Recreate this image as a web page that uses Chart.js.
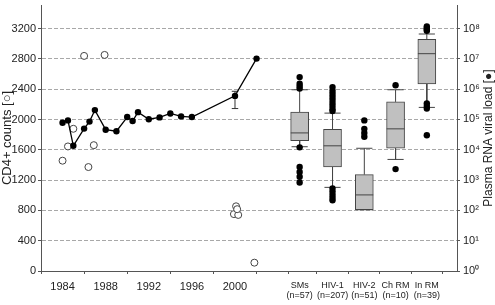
<!DOCTYPE html>
<html>
<head>
<meta charset="utf-8">
<script src="https://cdn.jsdelivr.net/npm/chart.js@4/dist/chart.umd.min.js"></script>
<style>
  html, body { margin: 0; padding: 0; background: #fff; }
  #wrap { position: relative; width: 495px; height: 305px; }
</style>
</head>
<body>
<div id="wrap"><canvas id="chart"></canvas></div>
<script>
// =========================
//  DATA
// =========================

// x axis
const yearTicks = [1984, 1988, 1992, 1996, 2000, 2004];
const groups    = ["SMs", "HIV-1", "HIV-2", "Ch RM", "In RM"];
const groupN    = ["(n=57)", "(n=207)", "(n=51)", "(n=10)", "(n=39)"];
const groupX    = [2006, 2009.05, 2012, 2014.9, 2017.8];

// left axis ticks (CD4+) and right axis ticks (viral load)
const cd4Ticks = [0, 400, 800, 1200, 1600, 2000, 2400, 2800, 3200];
const vlTicks  = [1, 10, 100, 1e3, 1e4, 1e5, 1e6, 1e7, 1e8];
const vlExp    = ["\u2070", "\u00b9", "\u00b2", "\u00b3", "\u2074", "\u2075", "\u2076", "\u2077", "\u2078"];

// patient viral load (filled dots, right axis)
const vlYears  = [1984, 1984.5, 1985, 1986, 1986.5, 1987, 1988, 1989, 1990, 1990.5, 1991, 1992, 1993, 1994, 1995, 1996, 2000, 2002];
const vlValues = [78000, 93000, 13500, 50000, 85000, 204000, 46000, 41000, 120000, 89000, 174000, 102000, 117000, 158000, 126000, 120000, 600000, 10200000];

// error bar at 2000
const errYear = 2000;
const errLow  = 229000;
const errHigh = 850000;

// patient CD4+ counts (open circles, left axis)
const cd4Years  = [1984, 1984.5, 1985, 1986, 1986.4, 1986.9, 1987.9, 1999.9, 2000.3, 2000.1, 2000.2, 2001.8];
const cd4Values = [1456, 1644, 1877, 2839, 1372, 1661, 2852, 751, 740, 854, 816, 110];

// box plots (viral load)
const boxLow  = [12600, 575, 105, 4800, 250000];
const boxQ1   = [20000, 2700, 105, 11200, 1480000];
const boxMed  = [36000, 13500, 324, 49000, 14800000];
const boxQ3   = [174000, 47000, 1510, 380000, 44000000];
const boxHigh = [955000, 162000, 11200, 955000, 66000000];
const boxOutliers = [
  [2500000, 1500000, 1260000, 1050000, 12000, 2700, 1860, 1290, 830],
  [1170000, 890000, 710000, 560000, 450000, 350000, 280000, 220000, 190000, 525, 417, 331, 263, 214],
  [93000, 49000, 36000, 27000],
  [1350000, 2300],
  [117000000, 105000000, 93000000, 85000000, 340000, 280000, 230000, 30000]
];

// =========================
//  BUILD DATASETS
// =========================

const CAP = 0.75;
const ERR_CAP = 0.3;

const vlLine = vlYears.map((x, i) => ({ x, y: vlValues[i] }));
const cd4Pts = cd4Years.map((x, i) => ({ x, y: cd4Values[i] }));

const boxBars = groupX.map((x, i) => ({ x, y: [boxQ1[i], boxQ3[i]] }));

const whiskerSegs = [];
groupX.forEach((x, i) => {
  whiskerSegs.push({ x, y: boxQ3[i] }, { x, y: boxHigh[i] }, { x, y: null });
  whiskerSegs.push({ x, y: boxQ1[i] }, { x, y: boxLow[i] }, { x, y: null });
  whiskerSegs.push({ x: x - CAP, y: boxHigh[i] }, { x: x + CAP, y: boxHigh[i] }, { x, y: null });
  whiskerSegs.push({ x: x - CAP, y: boxLow[i] }, { x: x + CAP, y: boxLow[i] }, { x, y: null });
});

const medianSegs = [];
groupX.forEach((x, i) => {
  medianSegs.push({ x: x - 0.83, y: boxMed[i] }, { x: x + 0.83, y: boxMed[i] }, { x, y: null });
});

const errSegs = [
  { x: errYear, y: errLow }, { x: errYear, y: errHigh }, { x: errYear, y: null },
  { x: errYear - ERR_CAP, y: errLow }, { x: errYear + ERR_CAP, y: errLow }, { x: errYear, y: null },
  { x: errYear - ERR_CAP, y: errHigh }, { x: errYear + ERR_CAP, y: errHigh }
];

const outlierPts = [];
groupX.forEach((x, i) => boxOutliers[i].forEach(v => outlierPts.push({ x, y: v })));

// =========================
//  CHART
// =========================

Chart.defaults.font.family = '"Liberation Sans", Arial, Helvetica, sans-serif';
Chart.defaults.color = "#222";

const AXIS = "#555";
const GRID = "#a8a8a8";

const rightTitle = {
  id: "rightTitle",
  afterDraw(chart) {
    const { ctx, chartArea } = chart;
    ctx.save();
    ctx.translate(489, (chartArea.top + chartArea.bottom) / 2);
    ctx.rotate(-Math.PI / 2);
    ctx.font = '12px "Liberation Sans", Arial, sans-serif';
    ctx.fillStyle = "#222";
    ctx.textAlign = "center";
    ctx.textBaseline = "middle";
    ctx.fillText("Plasma RNA viral load [\u25cf]", 0, 0);
    ctx.restore();
  }
};

new Chart(document.getElementById("chart"), {
  type: "scatter",
  data: {
    datasets: [
      {
        type: "scatter", data: outlierPts, yAxisID: "yVL",
        pointRadius: 3.2, pointBackgroundColor: "#000", pointBorderColor: "#000", pointBorderWidth: 0, order: 1
      },
      {
        type: "line", data: vlLine, yAxisID: "yVL",
        borderColor: "#000", borderWidth: 1.3, pointRadius: 3.2, pointBackgroundColor: "#000",
        pointBorderColor: "#000", pointBorderWidth: 0, tension: 0, order: 1
      },
      {
        type: "scatter", data: cd4Pts, yAxisID: "yCD4",
        pointRadius: 3.5, pointBackgroundColor: "#fff", pointBorderColor: "#444", pointBorderWidth: 1, order: 2
      },
      {
        type: "line", data: errSegs, yAxisID: "yVL",
        borderColor: "#333", borderWidth: 1, pointRadius: 0, spanGaps: false, order: 3
      },
      {
        type: "line", data: medianSegs, yAxisID: "yVL",
        borderColor: "#444", borderWidth: 1, pointRadius: 0, spanGaps: false, order: 3
      },
      {
        type: "line", data: whiskerSegs, yAxisID: "yVL",
        borderColor: "#444", borderWidth: 1, pointRadius: 0, spanGaps: false, order: 5
      },
      {
        type: "bar", data: boxBars, yAxisID: "yVL",
        backgroundColor: "#c0c0c0", borderColor: "#444", borderWidth: 1, borderSkipped: false,
        barThickness: 18, order: 4
      }
    ]
  },
  options: {
    responsive: true,
    maintainAspectRatio: false,
    animation: false,
    layout: { padding: 0 },
    plugins: { legend: { display: false }, tooltip: { enabled: false } },
    scales: {
      x: {
        type: "linear", position: "bottom", min: 1982, max: 2020.6, offset: false,
        grid: { drawOnChartArea: false, drawTicks: true, tickLength: 3, tickColor: AXIS },
        border: { color: AXIS, width: 1 },
        afterBuildTicks: s => { s.ticks = yearTicks.concat(groupX).map(v => ({ value: v })); },
        afterFit: s => { s.height = 34; s.paddingLeft = 0; s.paddingRight = 0; },
        ticks: {
          autoSkip: false, maxRotation: 0, padding: 6, color: "#222",
          font: c => (c.tick && c.tick.value > 2005) ? { size: 9, lineHeight: 1.15 } : { size: 11 },
          callback: v => {
            const i = groupX.indexOf(v);
            if (i >= 0) return [groups[i], groupN[i]];
            return v === 2004 ? "" : String(v);
          }
        }
      },
      yCD4: {
        type: "linear", position: "left", min: 0, max: 3511,
        grid: { color: GRID, lineWidth: 1, drawTicks: true, tickLength: 3, tickColor: AXIS },
        border: { color: AXIS, width: 1, dash: [4, 2] },
        afterBuildTicks: s => { s.ticks = cd4Ticks.map(v => ({ value: v })); },
        afterFit: s => { s.width = 41; s.paddingTop = 0; s.paddingBottom = 0; },
        ticks: { padding: 2, font: { size: 11 }, color: "#222", callback: v => String(v) },
        title: { display: true, text: "CD4+ counts [\u25cb]", font: { size: 13 }, padding: 0, color: "#222" }
      },
      yVL: {
        type: "logarithmic", position: "right", min: 1, max: 5.98e8,
        grid: { drawOnChartArea: false, drawTicks: true, tickLength: 3, tickColor: AXIS },
        border: { color: AXIS, width: 1 },
        afterBuildTicks: s => { s.ticks = vlTicks.map(v => ({ value: v })); },
        afterFit: s => { s.width = 38; s.paddingTop = 0; s.paddingBottom = 0; },
        ticks: {
          padding: 3, font: { size: 11 }, color: "#222",
          callback: v => {
            const i = vlTicks.indexOf(v);
            return i >= 0 ? "10" + vlExp[i] : "";
          }
        }
      }
    }
  },
  plugins: [rightTitle]
});
</script>
</body>
</html>
